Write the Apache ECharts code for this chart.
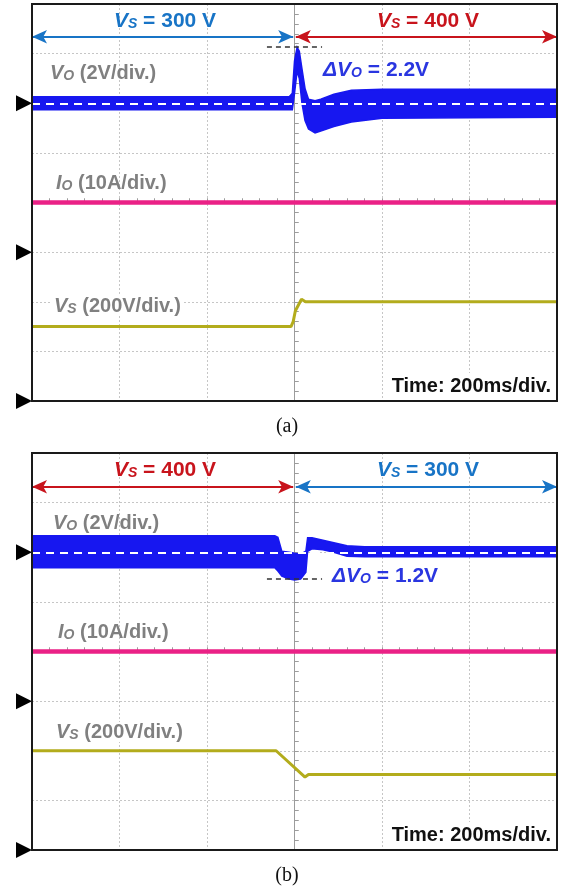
<!DOCTYPE html>
<html style='height: 100%'>
<head>
    <meta charset='utf-8'>
</head>
<body style='height: 100%; margin: 0; background: #fff'>
    <div id='container' style='width: 568px; height: 892px'></div>
    <script src="https://cdn.jsdelivr.net/npm/echarts@6/dist/echarts.min.js"></script>
    <script type="text/javascript">

// time in ms (trigger at 0, 200 ms/div), levels in screen divisions from the centre line
var timeTicks = [-600, 600, 200];
var groundLevels = [2, -1, -4];

// (a) Vs steps 300 V -> 400 V
var voTimeA = [-600, -12, -5, 0, 6, 11, 17, 24, 32, 47, 60, 90, 130, 200, 600];
var voLowA  = [1.87, 1.87, 1.87, 2.2, 2.65, 2.5, 2.0, 1.65, 1.48, 1.40, 1.44, 1.53, 1.62, 1.70, 1.72];
var voHighA = [2.13, 2.13, 2.2, 2.85, 3.13, 3.05, 2.7, 2.3, 2.08, 2.05, 2.08, 2.18, 2.26, 2.28, 2.28];
var ioA = [[-600, 0], [600, 0]];
var vsA = [[-600, -2.5], [-8, -2.5], [-3, -2.4], [2, -2.18], [16, -1.95], [25, -2.0], [600, -2.0]];
var peakA = 3.14;

// (b) Vs steps 400 V -> 300 V
var voTimeB = [-600, -45, -38, -29, -12, 0, 14, 26, 30, 40, 65, 90, 120, 160, 600];
var voLowB  = [1.69, 1.69, 1.62, 1.52, 1.46, 1.44, 1.46, 1.6, 2.02, 2.07, 2.05, 2.0, 1.92, 1.91, 1.91];
var voHighB = [2.33, 2.33, 2.30, 2.02, 2.0, 1.98, 1.96, 2.02, 2.29, 2.29, 2.24, 2.19, 2.13, 2.11, 2.11];
var ioB = [[-600, 0], [600, 0]];
var vsB = [[-600, -2.0], [-42, -2.0], [24, -2.53], [32, -2.48], [600, -2.48]];
var peakB = 1.46;

var arrowLevel = [3.34, 3.32];

var dom = document.getElementById("container");
var myChart = echarts.init(dom);

var BLUE = '#1717f0', PINK = '#ea2186', OLIVE = '#b3ac1c', GRAY = '#808080';
var BLUE_LBL = '#1874c6', RED_LBL = '#c8141c', DELTA = '#2a36e0';
var SANS = "'Liberation Sans', Arial, sans-serif";

function label(x, y, main, sub, rest, color, size, opts) {
    opts = opts || {};
    var st = {
        text: '{m|' + main + '}{s|' + sub + '}{r|' + rest + '}',
        align: opts.align || 'left',
        verticalAlign: 'middle',
        fill: color,
        rich: {
            m: { fontFamily: SANS, fontSize: size, fontWeight: 'bold', fontStyle: 'italic', fill: color },
            s: { fontFamily: SANS, fontSize: Math.round(size * 0.68), fontWeight: 'bold', fontStyle: 'italic',
                 fill: color, verticalAlign: 'bottom', lineHeight: 10 },
            r: { fontFamily: SANS, fontSize: size, fontWeight: 'bold', fill: color }
        }
    };
    if (opts.bg) { st.backgroundColor = '#fff'; st.padding = [0, 2]; }
    return { type: 'text', x: x, y: y, z: 100, style: st };
}
function plain(x, y, txt, font, size, bold, align, bg) {
    var st = {
        text: txt, align: align, verticalAlign: 'middle', fill: '#111',
        font: (bold ? 'bold ' : '') + size + 'px ' + font
    };
    if (bg) { st.backgroundColor = '#fff'; st.padding = [3, 4]; }
    return { type: 'text', x: x, y: y, z: 100, style: st };
}

var grids = [
    { left: 32, top: 4, width: 525, height: 397 },
    { left: 32, top: 453, width: 525, height: 397 }
];

var axisGray = { color: '#9c9c9c', width: 1 };
var gridLine = { show: true, lineStyle: { color: '#c6c6c6', type: [2, 2], width: 1 } };

// main axes carry the graticule; the extra ones only add ticks on the other side of the centre lines
function xAx(i, extra) {
    return {
        gridIndex: i, type: 'value', min: timeTicks[0], max: timeTicks[1], interval: timeTicks[2],
        position: extra ? 'top' : 'bottom',
        axisLine: { show: true, onZero: true, lineStyle: axisGray },
        axisTick: { show: true, inside: !extra, length: 4, lineStyle: axisGray },
        minorTick: { show: true, splitNumber: 5, length: 4, lineStyle: axisGray },
        axisLabel: { show: false },
        splitLine: extra ? { show: false } : gridLine
    };
}
function yAx(i, extra) {
    return {
        gridIndex: i, type: 'value', min: -4, max: 4, interval: 1,
        position: extra ? 'right' : 'left',
        axisLine: { show: true, onZero: true, lineStyle: axisGray },
        axisTick: { show: true, inside: !extra, length: 4, lineStyle: axisGray },
        minorTick: { show: true, splitNumber: 5, length: 4, lineStyle: axisGray },
        axisLabel: { show: false },
        splitLine: extra ? { show: false } : gridLine
    };
}

// Vo noise band: polygon between the low and high envelopes, placed through the axes
function bandSeries(i, voT, voLo, voHi) {
    return {
        type: 'custom', xAxisIndex: i, yAxisIndex: i, silent: true, clip: true,
        data: voT.map(function (t, k) { return [t, voLo[k], voHi[k]]; }),
        encode: { x: 0, y: [1, 2] },
        renderItem: function (params, api) {
            if (params.dataIndex !== 0) return null;
            var pts = [];
            for (var k = 0; k < voT.length; k++) pts.push(api.coord([voT[k], voHi[k]]));
            for (var j = voT.length - 1; j >= 0; j--) pts.push(api.coord([voT[j], voLo[j]]));
            return {
                type: 'polygon', shape: { points: pts },
                style: { fill: BLUE, stroke: BLUE, lineWidth: 1.5 }
            };
        }
    };
}

function panelSeries(i, voT, voLo, voHi, io, vs, peak, leftColor, rightColor) {
    var lvl = arrowLevel[i];
    return [
        bandSeries(i, voT, voLo, voHi),
        { type: 'line', xAxisIndex: i, yAxisIndex: i, data: io, symbol: 'none', silent: true,
          lineStyle: { color: PINK, width: 4.5 } },
        { type: 'line', xAxisIndex: i, yAxisIndex: i, data: vs, symbol: 'none', silent: true,
          lineStyle: { color: OLIVE, width: 3 } },
        { type: 'scatter', xAxisIndex: i, yAxisIndex: i, clip: false, silent: true,
          data: groundLevels.map(function (g) { return [timeTicks[0], g]; }),
          symbol: 'path://M0,0L10,5L0,10Z', symbolSize: [16, 16], symbolOffset: [-8, 0],
          itemStyle: { color: '#000', opacity: 1 },
          markLine: {
              silent: true, symbol: ['none', 'none'], label: { show: false }, animation: false,
              data: [
                  [{ coord: [-600, 2], lineStyle: { color: '#fff', type: [8, 6], width: 2 } },
                   { coord: [600, 2] }],
                  [{ coord: [-63, peak], lineStyle: { color: '#333', type: [5, 4], width: 1.5 } },
                   { coord: [63, peak] }],
                  [{ coord: [-600, lvl], symbol: 'arrow', symbolSize: [10, 15],
                     lineStyle: { color: leftColor, type: 'solid', width: 2 } },
                   { coord: [-3, lvl], symbol: 'arrow', symbolSize: [10, 15] }],
                  [{ coord: [3, lvl], symbol: 'arrow', symbolSize: [10, 15],
                     lineStyle: { color: rightColor, type: 'solid', width: 2 } },
                   { coord: [600, lvl], symbol: 'arrow', symbolSize: [10, 15] }]
              ]
          } }
    ];
}

function frame(g) {
    return { type: 'rect', z: 60, silent: true,
             shape: { x: g.left, y: g.top, width: g.width, height: g.height },
             style: { fill: null, stroke: '#1a1a1a', lineWidth: 2 } };
}

var option = {
    animation: false,
    backgroundColor: '#fff',
    grid: grids,
    xAxis: [xAx(0), xAx(1), xAx(0, true), xAx(1, true)],
    yAxis: [yAx(0), yAx(1), yAx(0, true), yAx(1, true)],
    series: panelSeries(0, voTimeA, voLowA, voHighA, ioA, vsA, peakA, BLUE_LBL, RED_LBL)
        .concat(panelSeries(1, voTimeB, voLowB, voHighB, ioB, vsB, peakB, RED_LBL, BLUE_LBL)),
    graphic: [
        frame(grids[0]), frame(grids[1]),
        label(165, 21, 'V', 'S', ' = 300 V', BLUE_LBL, 21, { align: 'center' }),
        label(428, 21, 'V', 'S', ' = 400 V', RED_LBL, 21, { align: 'center' }),
        label(50, 73, 'V', 'O', ' (2V/div.)', GRAY, 20),
        label(323, 70, '\u0394V', 'O', ' = 2.2V', DELTA, 21),
        label(56, 183, 'I', 'O', ' (10A/div.)', GRAY, 20),
        label(52, 306, 'V', 'S', ' (200V/div.)', GRAY, 20, { bg: true }),
        plain(555, 386, 'Time: 200ms/div.', SANS, 20, true, 'right', true),
        plain(287, 427, '(a)', "'Liberation Serif', 'Times New Roman', serif", 20, false, 'center'),

        label(165, 470, 'V', 'S', ' = 400 V', RED_LBL, 21, { align: 'center' }),
        label(428, 470, 'V', 'S', ' = 300 V', BLUE_LBL, 21, { align: 'center' }),
        label(53, 523, 'V', 'O', ' (2V/div.)', GRAY, 20),
        label(332, 576, '\u0394V', 'O', ' = 1.2V', DELTA, 21),
        label(58, 632, 'I', 'O', ' (10A/div.)', GRAY, 20),
        label(54, 732, 'V', 'S', ' (200V/div.)', GRAY, 20, { bg: true }),
        plain(555, 835, 'Time: 200ms/div.', SANS, 20, true, 'right', true),
        plain(287, 876, '(b)', "'Liberation Serif', 'Times New Roman', serif", 20, false, 'center')
    ]
};

myChart.setOption(option, true);
    </script>
</body>
</html>
